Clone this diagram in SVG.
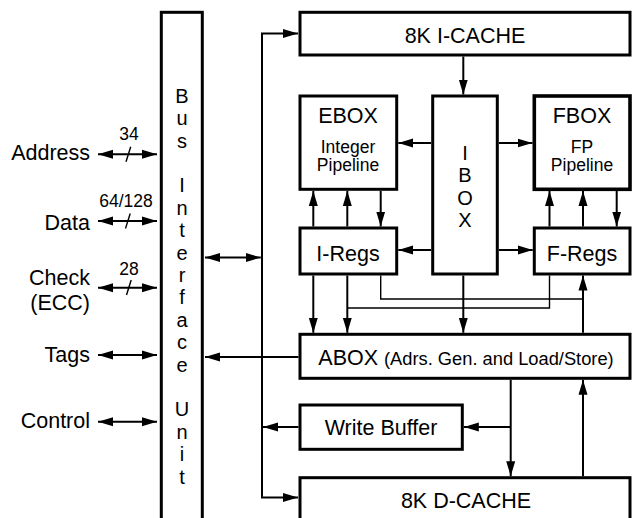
<svg xmlns="http://www.w3.org/2000/svg" width="632" height="518" viewBox="0 0 632 518">
<style>
text{font-family:"Liberation Sans",Arial,sans-serif;fill:#000}
.big{font-size:21.5px}
.sm{font-size:17.5px}
.lbl{font-size:21.5px;text-anchor:end}
.mid{text-anchor:middle}
.box{fill:#fff;stroke:#000;stroke-width:3}
.c{fill:none;stroke:#000;stroke-width:2}
.t{fill:none;stroke:#000;stroke-width:1.4}
.a{marker-end:url(#ah)}
.d{marker-start:url(#ah);marker-end:url(#ah)}
</style>
<defs>
<marker id="ah" markerUnits="userSpaceOnUse" markerWidth="15" markerHeight="10" viewBox="0 0 15 10" refX="15" refY="5" orient="auto-start-reverse">
<path d="M0,0.5 L15,5 L0,9.5 z" fill="#000"/>
</marker>
</defs>
<rect width="632" height="518" fill="#fff"/>

<g id="bus-interface">
<rect class="box" x="161.3" y="12.3" width="41" height="600"/>
<g class="big mid" style="font-size:20px">
<text x="182" y="102.7">B</text>
<text x="182" y="125.1">u</text>
<text x="182" y="147.5">s</text>
<text x="182" y="192.3">I</text>
<text x="182" y="214.7">n</text>
<text x="182" y="237.1">t</text>
<text x="182" y="259.5">e</text>
<text x="182" y="281.9">r</text>
<text x="182" y="304.3">f</text>
<text x="182" y="326.7">a</text>
<text x="182" y="349.1">c</text>
<text x="182" y="371.5">e</text>
<text x="182" y="416.3">U</text>
<text x="182" y="438.7">n</text>
<text x="182" y="461.1">i</text>
<text x="182" y="483.5">t</text>
</g>
</g>

<g id="signals">
<text class="lbl" x="90" y="160">Address</text>
<text class="lbl" x="90" y="230">Data</text>
<text class="lbl" x="90" y="285">Check</text>
<text class="lbl" x="90" y="310">(ECC)</text>
<text class="lbl" x="90" y="362">Tags</text>
<text class="lbl" x="90" y="428">Control</text>
<text class="sm mid" x="129" y="140">34</text>
<text class="sm mid" x="126" y="207">64/128</text>
<text class="sm mid" x="129" y="275">28</text>
</g>

<g id="icache">
<rect class="box" x="300" y="12.3" width="330" height="42.7"/>
<text class="big mid" x="465" y="43">8K I-CACHE</text>
</g>
<g id="ebox">
<rect class="box" x="300" y="96" width="96.7" height="93.3"/>
<text class="big mid" x="348" y="123">EBOX</text>
<text class="sm mid" x="348" y="152.5">Integer</text>
<text class="sm mid" x="348" y="171">Pipeline</text>
</g>
<g id="ibox">
<rect class="box" x="432.7" y="96" width="64.6" height="178"/>
<g class="mid" style="font-size:20px">
<text x="465" y="160">I</text>
<text x="465" y="182.4">B</text>
<text x="465" y="204.8">O</text>
<text x="465" y="227.2">X</text>
</g>
</g>
<g id="fbox">
<rect class="box" x="534.3" y="96" width="95.7" height="93.3" style="stroke-width:3.6"/>
<text class="big mid" x="582" y="123">FBOX</text>
<text class="sm mid" x="582" y="152.5">FP</text>
<text class="sm mid" x="582" y="171">Pipeline</text>
</g>
<g id="iregs">
<rect class="box" x="300" y="228" width="96.7" height="46"/>
<text class="big mid" x="348" y="261">I-Regs</text>
</g>
<g id="fregs">
<rect class="box" x="534.3" y="228" width="95.7" height="46"/>
<text class="big mid" x="582" y="261">F-Regs</text>
</g>
<g id="abox">
<rect class="box" x="300" y="334.3" width="330" height="44"/>
<text class="big mid" x="466" y="365">ABOX <tspan style="font-size:18.3px">(Adrs. Gen. and Load/Store)</tspan></text>
</g>
<g id="write-buffer">
<rect class="box" x="300" y="405" width="162.3" height="44.3"/>
<text class="big mid" x="381" y="435">Write Buffer</text>
</g>
<g id="dcache">
<rect class="box" x="300" y="477.7" width="330" height="100"/>
<text class="big mid" x="466" y="508">8K D-CACHE</text>
</g>

<g id="connectors">
<!-- external signals -->
<path class="c d" d="M98,154.3 H157"/>
<path class="c d" d="M98,221 H157"/>
<path class="c d" d="M98,287.7 H157"/>
<path class="c d" d="M98,355 H157"/>
<path class="c d" d="M98,421.7 H157"/>
<path class="t" d="M126,161.7 L130.7,146.7"/>
<path class="t" d="M125.5,228.5 L130.2,213.5"/>
<path class="t" d="M126.5,295 L131.2,280"/>
<!-- internal bus -->
<path class="c d" d="M205,257.5 H260.8"/>
<path class="c d" d="M298,33.5 H262 V497.5 H298"/>
<path class="c a" d="M298.5,357 H205"/>
<path class="c a" d="M298.5,427 H263"/>
<!-- icache to ibox -->
<path class="c a" d="M463.3,56.5 V94.5"/>
<!-- ibox outputs -->
<path class="c a" d="M431,143 H398.3"/>
<path class="c a" d="M499,143 H532.5"/>
<path class="c a" d="M431,250 H398.3"/>
<path class="c a" d="M499,250 H532.7"/>
<path class="c a" d="M463.3,275.5 V332.8"/>
<!-- ebox / iregs -->
<path class="c a" d="M313.3,226.5 V191"/>
<path class="c a" d="M347.3,226.5 V191"/>
<path class="c a" d="M380.7,191 V226.5"/>
<!-- fbox / fregs -->
<path class="c a" d="M549.5,226.5 V191"/>
<path class="c a" d="M583,226.5 V191"/>
<path class="c a" d="M616.7,191 V226.5"/>
<!-- iregs to abox -->
<path class="c a" d="M313.3,275.5 V332.8"/>
<path class="c a" d="M347.3,275.5 V332.8"/>
<!-- cross lines -->
<path class="t" d="M380.7,275.5 V299 H583"/>
<path class="t" d="M549.5,275.5 V308 H347.3"/>
<!-- abox to fregs -->
<path class="c a" d="M583,332.8 V275.5"/>
<!-- abox / dcache -->
<path class="c a" d="M510.7,379.8 V476.2"/>
<path class="c a" d="M510.7,427 H463.8"/>
<path class="c a" d="M583,476.2 V379.8"/>
</g>
</svg>
